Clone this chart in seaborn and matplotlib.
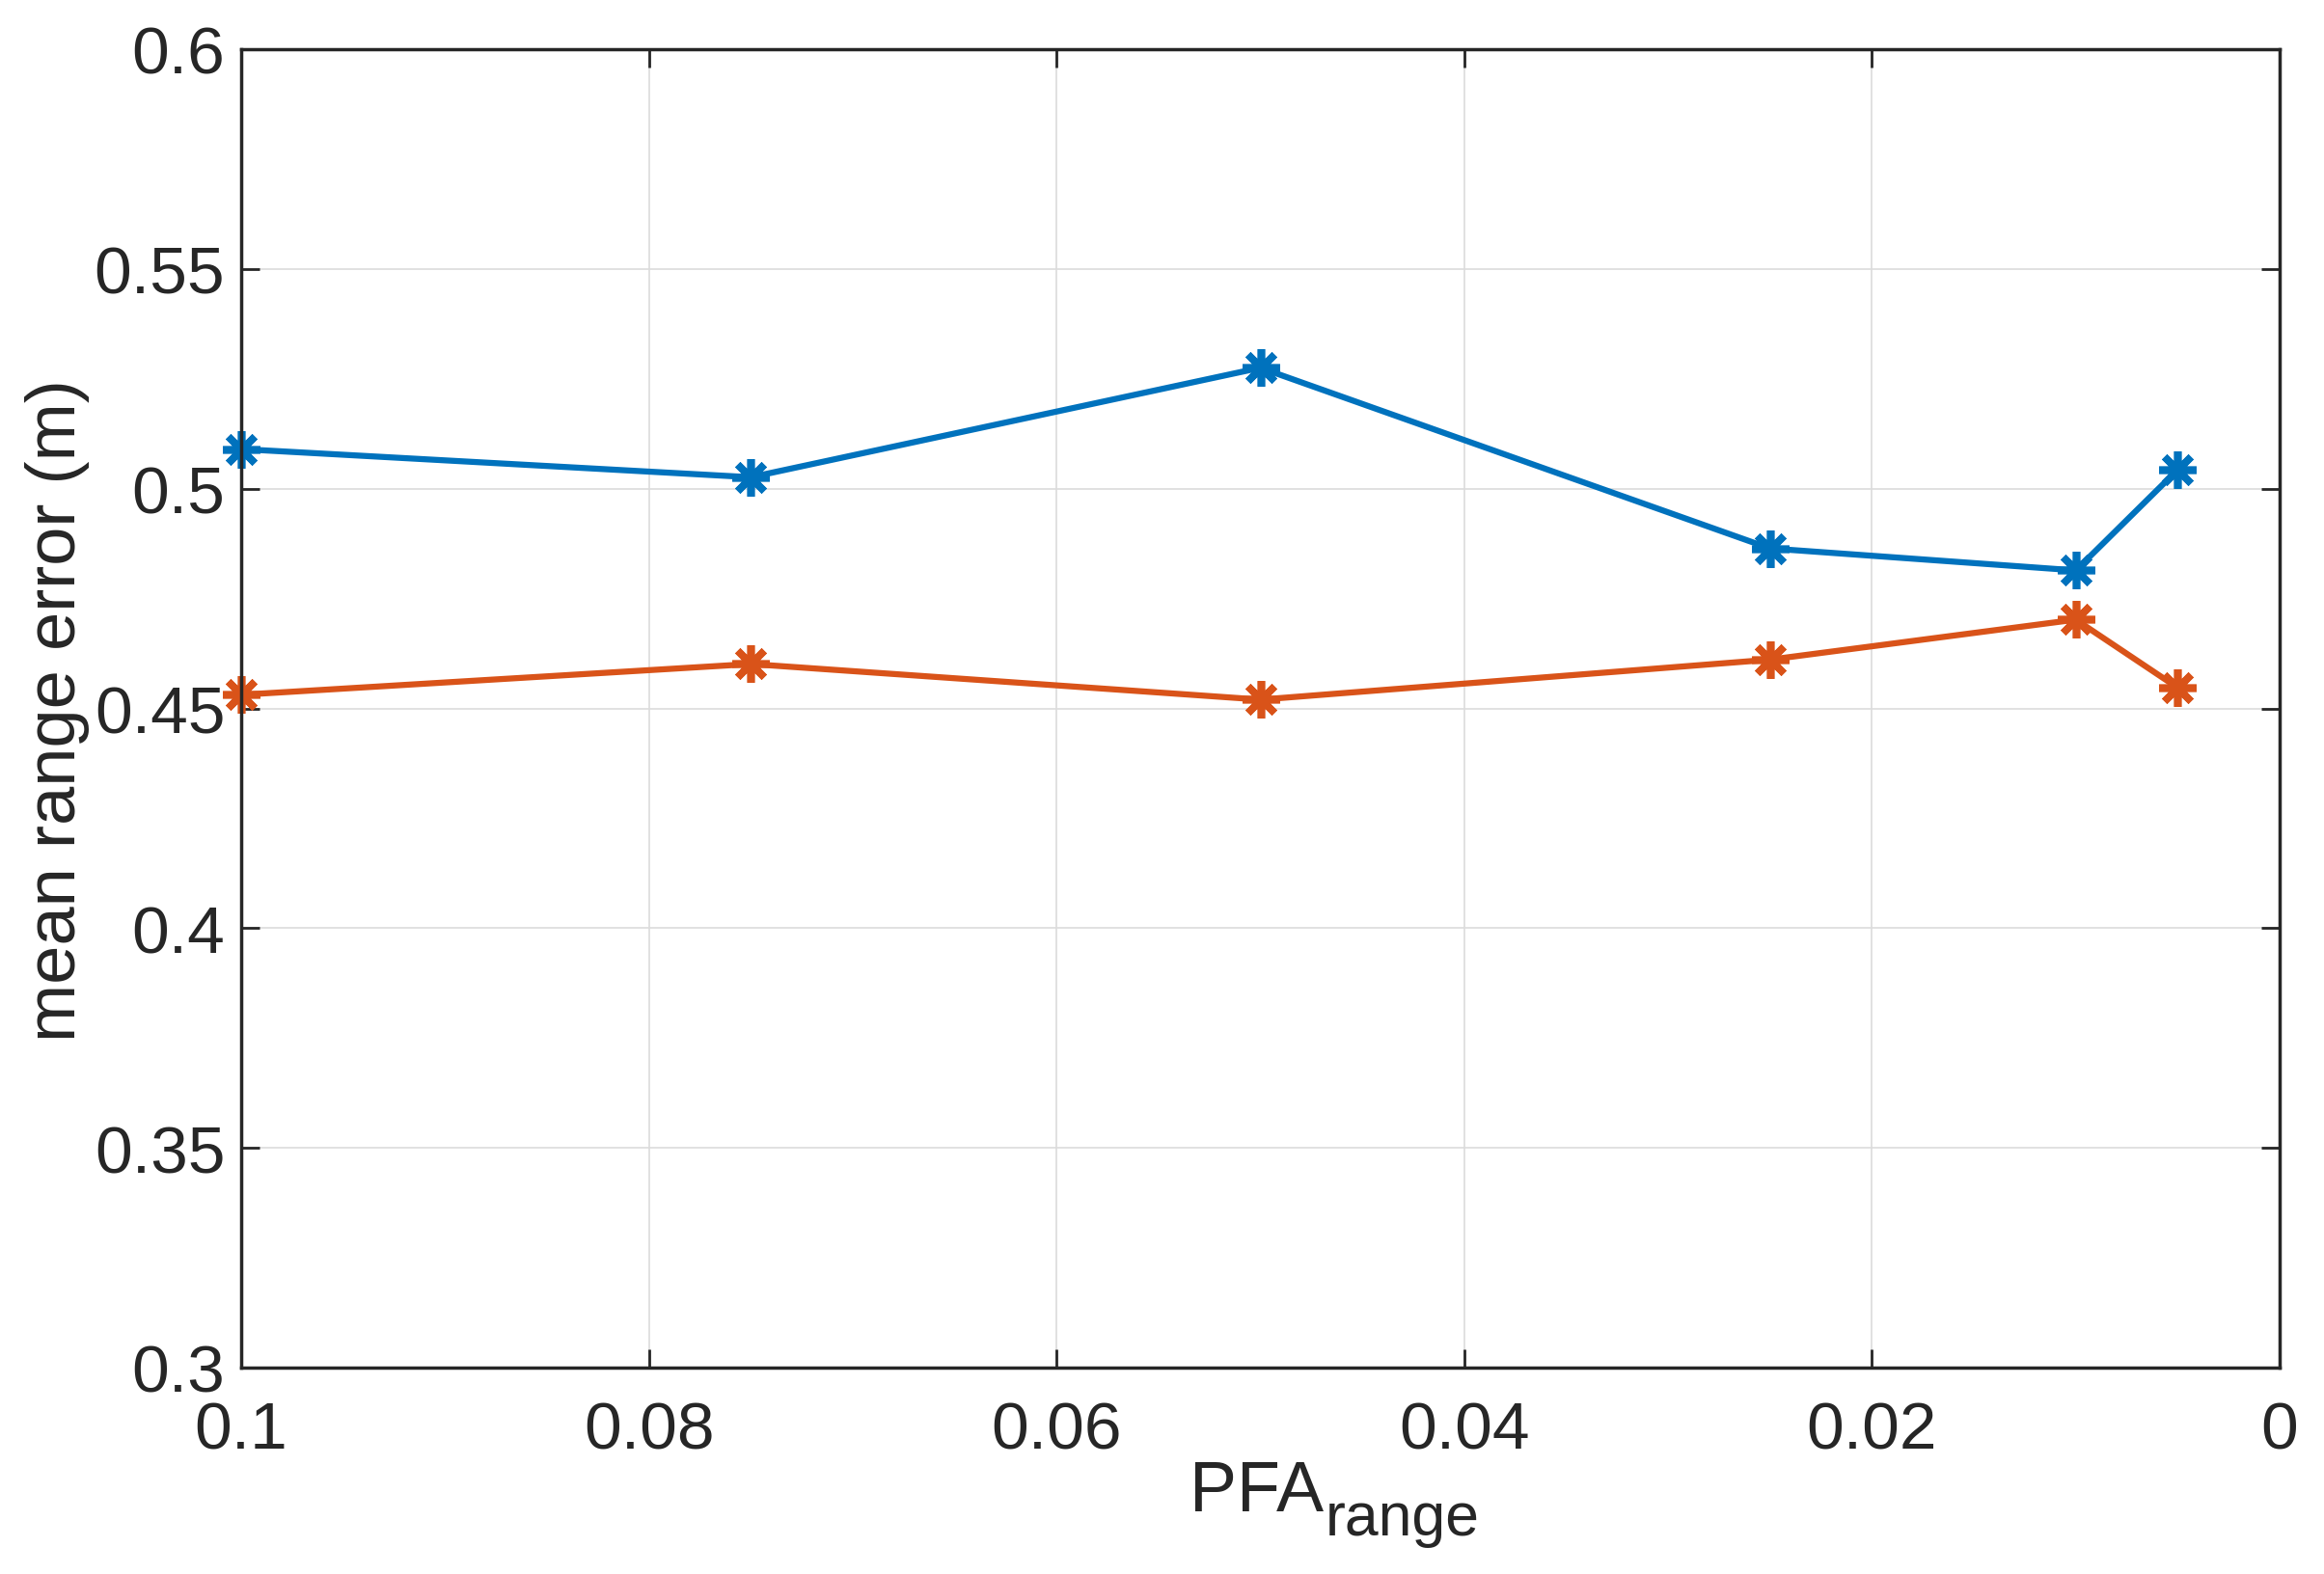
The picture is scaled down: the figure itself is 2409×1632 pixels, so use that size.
import matplotlib
matplotlib.use("Agg")
import matplotlib.pyplot as plt
import seaborn as sns
import pandas as pd
from matplotlib import font_manager

pfa = [0.1, 0.075, 0.05, 0.025, 0.01, 0.005]
series_a = [0.509, 0.5026, 0.5275, 0.4864, 0.4814, 0.5043]
series_b = [0.4531, 0.4601, 0.452, 0.4611, 0.4702, 0.4547]
x_ticks = [0.1, 0.08, 0.06, 0.04, 0.02, 0]
x_tick_labels = ["0.1", "0.08", "0.06", "0.04", "0.02", "0"]
y_ticks = [0.3, 0.35, 0.4, 0.45, 0.5, 0.55, 0.6]
y_tick_labels = ["0.3", "0.35", "0.4", "0.45", "0.5", "0.55", "0.6"]

df = pd.DataFrame({
    "pfa": pfa * 2,
    "err": series_a + series_b,
    "series": ["A"] * len(pfa) + ["B"] * len(pfa),
})

sns.set_theme(style="white")
names = {f.name for f in font_manager.fontManager.ttflist}
fam = "Liberation Sans Narrow" if "Liberation Sans Narrow" in names else "Liberation Sans"
plt.rcParams["font.family"] = [fam, "DejaVu Sans"]

W, H = 2409, 1633
fig = plt.figure(figsize=(W / 100, H / 100), dpi=100)
ax = fig.add_axes([250 / W, 1 - 1419 / H, (2363 - 250) / W, (1419 - 52) / H])

sns.lineplot(data=df, x="pfa", y="err", hue="series",
             palette={"A": "#0072BD", "B": "#D95319"},
             marker=(8, 2, 0), markersize=28, markeredgewidth=5.5,
             linewidth=4.5, legend=False, ax=ax, errorbar=None)
for ln in ax.lines:
    ln.set_markeredgecolor(ln.get_color())
    ln.set_linewidth(4.5)
    ln.set_clip_on(False)

ax.set_xlim(0.1, 0)
ax.set_ylim(0.3, 0.6)
ax.set_xticks(x_ticks)
ax.set_xticklabels(x_tick_labels)
ax.set_yticks(y_ticks)
ax.set_yticklabels(y_tick_labels)
ax.grid(True, color="#dcdcdc", linewidth=1.2)
ax.set_axisbelow(True)
for s in ax.spines.values():
    s.set_visible(True)
    s.set_color("#262626")
    s.set_linewidth(2.5)
ax.tick_params(direction="in", length=14, width=2, colors="#262626",
               labelsize=50, top=True, right=True,
               bottom=True, left=True, labeltop=False, labelright=False)
ax.tick_params(axis="x", pad=24)
ax.tick_params(axis="y", pad=12)
ax.set_xlabel("")
ax.set_ylabel("")
fig.text(1372 / W, 1 - 1567 / H, "PFA", ha="right", va="baseline",
         fontsize=53, color="#262626")
fig.text(1374 / W, 1 - 1592 / H, "range", ha="left", va="baseline",
         fontsize=45, color="#262626")
fig.text(60 / W, 1 - 737 / H, "mean range error (m)", rotation=90,
         ha="center", va="center", fontsize=52, color="#262626")

fig.savefig("out.png", dpi=100, facecolor="white")
